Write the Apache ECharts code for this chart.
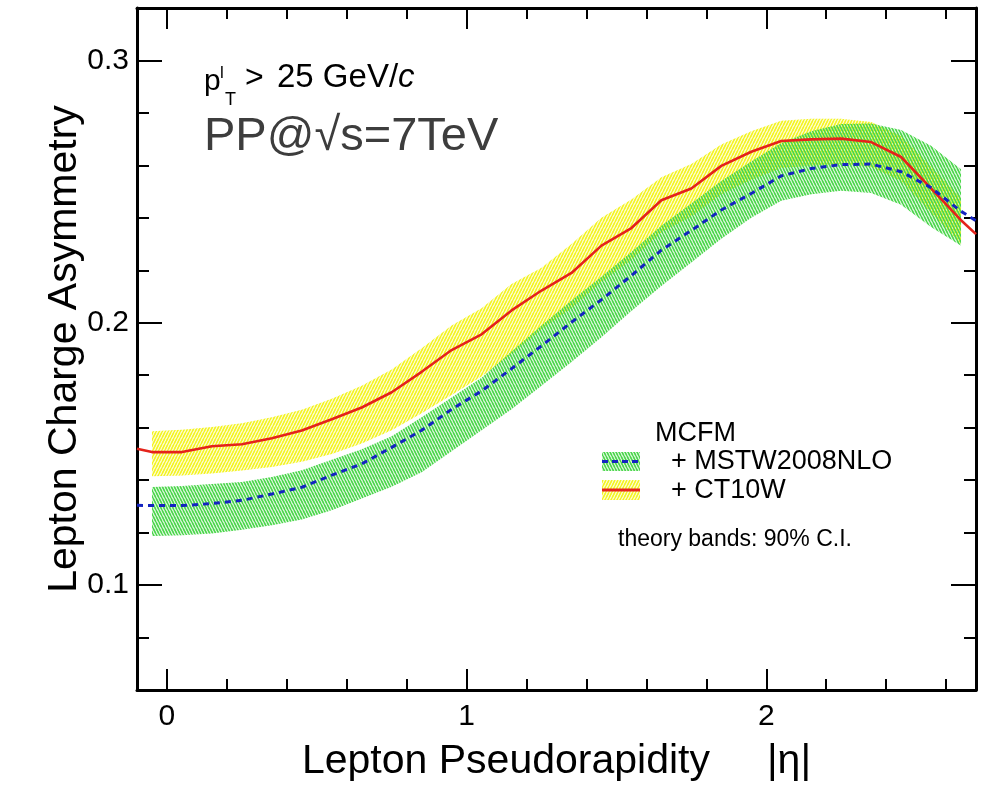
<!DOCTYPE html>
<html><head><meta charset="utf-8">
<script src="https://cdn.jsdelivr.net/npm/echarts@6/dist/echarts.min.js"></script>
<style>html,body{margin:0;padding:0;background:#fff}#c{width:983px;height:787px}</style>
</head><body><div id="c"></div>
<script>
// ---- data ----
const etaBand = [-0.05,0.05,0.15,0.25,0.35,0.45,0.55,0.65,0.75,0.85,0.95,1.05,1.15,1.25,1.35,1.45,1.55,1.65,1.75,1.85,1.95,2.05,2.15,2.25,2.35,2.45,2.55,2.65];
const mstwUpper = [.1374,.1378,.1385,.1393,.1412,.1438,.1478,.1518,.1567,.1640,.1715,.1790,.1890,.1990,.2085,.2175,.2270,.2370,.2455,.2540,.2615,.2685,.2730,.2758,.2760,.2735,.2675,.2585];
const mstwLower = [.1187,.1190,.1197,.1211,.1228,.1250,.1285,.1330,.1375,.1430,.1510,.1590,.1670,.1760,.1850,.1945,.2045,.2140,.2230,.2320,.2400,.2465,.2490,.2503,.2495,.2450,.2365,.2294];
const ct10Upper = [.1586,.1592,.1603,.1617,.1640,.1668,.1710,.1760,.1822,.1903,.1990,.2055,.2148,.2210,.2300,.2400,.2470,.2555,.2605,.2680,.2730,.2770,.2778,.2778,.2765,.2712,.2595,.2475];
const ct10Lower = [.1415,.1418,.1425,.1437,.1450,.1470,.1500,.1540,.1590,.1655,.1725,.1795,.1880,.1975,.2055,.2155,.2240,.2345,.2405,.2490,.2545,.2590,.2600,.2605,.2595,.2540,.2420,.2300];

const etaLine = [-0.1,-0.05,0.05,0.15,0.25,0.35,0.45,0.55,0.65,0.75,0.85,0.95,1.05,1.15,1.25,1.35,1.45,1.55,1.65,1.75,1.85,1.95,2.05,2.15,2.25,2.35,2.45,2.55,2.65,2.7];
const mstwCentral = [.1304,.1303,.1303,.1311,.1323,.1347,.1373,.1419,.1462,.1525,.1590,.1670,.1740,.1825,.1912,.2002,.2088,.2180,.2277,.2352,.2430,.2493,.2560,.2588,.2603,.2605,.2576,.2515,.2425,.2389];
const ct10Central = [.1520,.1507,.1507,.1529,.1537,.1560,.1589,.1632,.1677,.1735,.1813,.1896,.1956,.2047,.2123,.2190,.2294,.2361,.2467,.2512,.2598,.2652,.2693,.2699,.2702,.2689,.2632,.2512,.2391,.2338];

const xMajorTicks = [0, 1, 2];
const xMinorTicks = [0.2,0.4,0.6,0.8,1.2,1.4,1.6,1.8,2.2,2.4,2.6];
const yMajorTicks = [0.1, 0.2, 0.3];
const yMinorTicks = [0.08,0.12,0.14,0.16,0.18,0.22,0.24,0.26,0.28];
const seriesNames = ['+ MSTW2008NLO', '+ CT10W'];

// ---- styling ----
const FONT = '"Liberation Sans", Arial, Helvetica, sans-serif';
const X_MIN = -0.1, X_MAX = 2.7, Y_MIN = 0.06, Y_MAX = 0.32;
const RED = '#e4231b', BLUE = '#1424c0';

function hatch(color, dir) {
  const w = 3, h = 6;
  const c = document.createElement('canvas');
  c.width = w; c.height = h;
  const g = c.getContext('2d');
  g.strokeStyle = color; g.lineWidth = 1.8;
  for (const off of [-w, 0, w]) {
    g.beginPath();
    if (dir > 0) { g.moveTo(off, h); g.lineTo(off + w, 0); }
    else { g.moveTo(off, 0); g.lineTo(off + w, h); }
    g.stroke();
  }
  return c;
}
const yellowPat = { image: hatch('#f4f424', 1), repeat: 'repeat' };
const greenPat = { image: hatch('#4cd64c', -1), repeat: 'repeat' };

const zip = (xs, ys) => xs.map((x, i) => [x, ys[i]]);

function bandSeries(name, lower, upper, pat, z) {
  const data = etaBand.map((x, i) => [x, lower[i], upper[i]]);
  return {
    type: 'custom', name: name, data: data, silent: true, z: z, clip: true,
    encode: { x: 0, y: [1, 2] },
    renderItem: function (params, api) {
      if (params.dataIndex !== 0) return null;
      const top = data.map(d => api.coord([d[0], d[2]]));
      const bot = data.map(d => api.coord([d[0], d[1]])).reverse();
      return { type: 'polygon', shape: { points: top.concat(bot) }, style: { fill: pat } };
    }
  };
}

function xAx(pos, ticks, len, main, labels) {
  const a = {
    type: 'value', position: pos, min: X_MIN, max: X_MAX,
    axisLine: { show: main, onZero: false, lineStyle: { color: '#000', width: 3 } },
    axisTick: { show: true, inside: true, length: len, customValues: ticks, lineStyle: { color: '#000', width: 2 } },
    axisLabel: { show: false },
    splitLine: { show: false }
  };
  if (labels) {
    a.axisLabel = { show: true, customValues: ticks, margin: 12, fontSize: 30, color: '#000', fontFamily: FONT };
    a.name = 'Lepton Pseudorapidity     |η|';
    a.nameLocation = 'middle';
    a.nameGap = 51;
    a.nameMoveOverlap = false;
    a.nameTextStyle = { fontSize: 41, color: '#000', fontFamily: FONT };
  }
  return a;
}
function yAx(pos, ticks, len, main, labels) {
  const a = {
    type: 'value', position: pos, min: Y_MIN, max: Y_MAX,
    axisLine: { show: main, onZero: false, lineStyle: { color: '#000', width: 3 } },
    axisTick: { show: true, inside: true, length: len, customValues: ticks, lineStyle: { color: '#000', width: 2 } },
    axisLabel: { show: false },
    splitLine: { show: false }
  };
  if (labels) {
    a.axisLabel = { show: true, customValues: ticks, margin: 8, fontSize: 30, color: '#000', fontFamily: FONT };
    a.name = 'Lepton Charge Asymmetry';
    a.nameLocation = 'middle';
    a.nameGap = 52;
    a.nameMoveOverlap = false;
    a.nameTextStyle = { fontSize: 41, color: '#000', fontFamily: FONT };
  }
  return a;
}

const chart = echarts.init(document.getElementById('c'), null, { renderer: 'canvas' });
chart.setOption({
  animation: false,
  backgroundColor: '#fff',
  grid: { left: 137, right: 7, top: 8, bottom: 93, containLabel: false },
  xAxis: [
    xAx('bottom', xMajorTicks, 21, true, true),
    xAx('bottom', xMinorTicks, 11, false, false),
    xAx('top', xMajorTicks, 21, true, false),
    xAx('top', xMinorTicks, 11, false, false)
  ],
  yAxis: [
    yAx('left', yMajorTicks, 25, true, true),
    yAx('left', yMinorTicks, 12, false, false),
    yAx('right', yMajorTicks, 25, true, false),
    yAx('right', yMinorTicks, 12, false, false)
  ],
  series: [
    bandSeries('CT10W band', ct10Lower, ct10Upper, yellowPat, 2),
    bandSeries('MSTW2008NLO band', mstwLower, mstwUpper, greenPat, 3),
    { type: 'line', name: seriesNames[1], data: zip(etaLine, ct10Central), symbol: 'none', z: 5,
      lineStyle: { color: RED, width: 2.6 } },
    { type: 'line', name: seriesNames[0], data: zip(etaLine, mstwCentral), symbol: 'none', z: 6,
      lineStyle: { color: BLUE, width: 3, type: [6, 5] } }
  ],
  graphic: [
    { type: 'text', x: 204, y: 82, style: { text: 'p', font: '30px ' + FONT, fill: '#000', verticalAlign: 'middle' } },
    { type: 'text', x: 220, y: 73, style: { text: 'l', font: '17px ' + FONT, fill: '#000', verticalAlign: 'middle' } },
    { type: 'text', x: 225, y: 100, style: { text: 'T', font: '18px ' + FONT, fill: '#000', verticalAlign: 'middle' } },
    { type: 'text', x: 245, y: 78, style: { text: '>', font: '32px ' + FONT, fill: '#000', verticalAlign: 'middle' } },
    { type: 'text', x: 277, y: 78, style: { text: '25 GeV/{i|c}', font: '33px ' + FONT, fill: '#000', verticalAlign: 'middle',
        rich: { i: { fontStyle: 'italic', fontSize: 33, fontFamily: FONT, fill: '#000' } } } },
    { type: 'text', x: 204, y: 137, style: { text: 'PP@√s=7TeV', font: '47px ' + FONT, fill: '#3d3d3d', verticalAlign: 'middle' } },

    { type: 'text', x: 655, y: 434, style: { text: 'MCFM', font: '27px ' + FONT, fill: '#000', verticalAlign: 'middle' } },
    { type: 'rect', shape: { x: 602, y: 452, width: 38, height: 19 }, style: { fill: greenPat } },
    { type: 'line', shape: { x1: 602, y1: 461.5, x2: 640, y2: 461.5 }, style: { stroke: BLUE, lineWidth: 3, lineDash: [6, 4] } },
    { type: 'text', x: 671, y: 462, style: { text: seriesNames[0], font: '27px ' + FONT, fill: '#000', verticalAlign: 'middle' } },
    { type: 'rect', shape: { x: 602, y: 480, width: 38, height: 20 }, style: { fill: yellowPat } },
    { type: 'line', shape: { x1: 602, y1: 490, x2: 640, y2: 490 }, style: { stroke: RED, lineWidth: 3 } },
    { type: 'text', x: 671, y: 491, style: { text: seriesNames[1], font: '27px ' + FONT, fill: '#000', verticalAlign: 'middle' } },
    { type: 'text', x: 618, y: 540, style: { text: 'theory bands: 90% C.I.', font: '23px ' + FONT, fill: '#000', verticalAlign: 'middle' } }
  ]
});
</script>
</body></html>
